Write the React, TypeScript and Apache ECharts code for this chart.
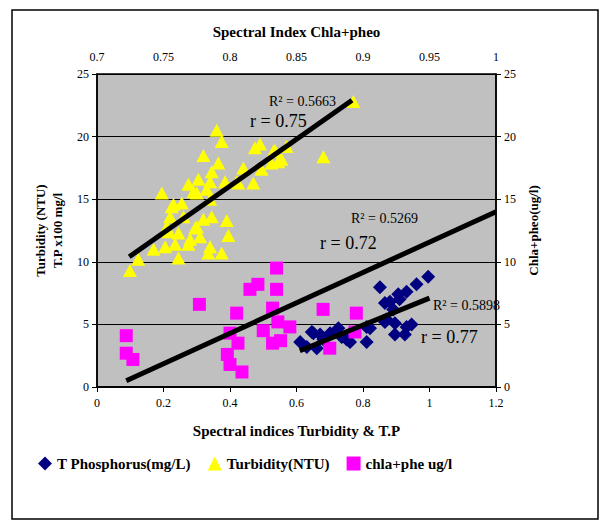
import React, { useEffect, useRef } from "react";
import * as echarts from "echarts";

// Turbidity (NTU) vs spectral index (bottom axis)
const turbidityX = [0.771, 0.681, 0.36, 0.375, 0.49, 0.475, 0.57, 0.535, 0.555, 0.32, 0.365, 0.345, 0.44, 0.495, 0.525, 0.305, 0.275, 0.385, 0.425, 0.47, 0.34, 0.3, 0.195, 0.255, 0.225, 0.34, 0.345, 0.39, 0.395, 0.375, 0.335, 0.245, 0.124, 0.099, 0.17, 0.205, 0.21, 0.245, 0.28, 0.3, 0.32, 0.26, 0.22, 0.31, 0.275, 0.235, 0.29, 0.33, 0.23, 0.215, 0.53, 0.545, 0.42, 0.295, 0.34];
const turbidityY = [22.8, 18.4, 20.5, 19.6, 19.4, 19.1, 19.2, 18.9, 18.2, 18.5, 17.9, 17.2, 17.5, 17.4, 17.9, 16.6, 16.2, 16.4, 16.3, 16.3, 16.4, 15.5, 15.5, 14.7, 14.4, 15.0, 13.6, 13.3, 12.1, 10.7, 10.7, 10.3, 10.2, 9.3, 11.0, 11.2, 12.8, 12.3, 11.8, 12.8, 13.4, 13.6, 13.6, 12.0, 11.4, 11.4, 15.6, 15.8, 14.6, 12.4, 18.8, 18.0, 16.4, 12.7, 11.2];

// T Phosphorus (x100 mg/l) vs spectral index (bottom axis)
const tpX = [0.851, 0.996, 0.961, 0.931, 0.906, 0.881, 0.891, 0.871, 0.896, 0.931, 0.896, 0.811, 0.811, 0.751, 0.726, 0.701, 0.671, 0.646, 0.611, 0.661, 0.866, 0.866, 0.821, 0.651, 0.681, 0.736, 0.761, 0.946, 0.926, 0.631, 0.91];
const tpY = [7.97, 8.8, 8.2, 7.6, 7.4, 6.8, 6.2, 5.4, 5.1, 4.8, 4.2, 3.6, 4.8, 3.8, 4.7, 4.3, 4.2, 4.4, 3.6, 3.1, 6.7, 5.2, 4.7, 4.3, 3.8, 4.0, 3.6, 5.0, 4.2, 3.2, 7.0];

// Chla+pheo (ug/l) vs spectral index Chla+pheo (top axis)
const chlaX = [0.722, 0.722, 0.727, 0.777, 0.805, 0.8, 0.806, 0.798, 0.8, 0.809, 0.815, 0.821, 0.835, 0.835, 0.832, 0.836, 0.825, 0.832, 0.838, 0.845, 0.87, 0.895, 0.894, 0.875];
const chlaY = [4.1, 2.7, 2.2, 6.6, 5.9, 4.3, 3.5, 2.6, 1.8, 1.2, 7.8, 8.2, 9.5, 7.8, 6.3, 5.2, 4.5, 3.5, 3.7, 4.8, 6.2, 5.9, 4.4, 3.1];

// Trend lines (end points)
const turbidityTrend = [[0.097, 10.4], [0.767, 22.9]];
const tpTrend = [[0.61, 2.9], [1.0, 7.1]];
const chlaTrend = [[0.722, 0.5], [1.0, 14.0]];

const bottomTicks = { min: 0, max: 1.2, interval: 0.2 };
const topTicks = { min: 0.7, max: 1, interval: 0.05 };
const yTicks = { min: 0, max: 25, interval: 5 };

const FONT = "'Liberation Serif', 'Times New Roman', serif";

const pairs = (xs: number[], ys: number[]) => xs.map((x, i) => [x, ys[i]]);

export default function App() {
  const ref = useRef<HTMLDivElement>(null);
  useEffect(() => {
    if (!ref.current) return;
    const chart = echarts.init(ref.current, undefined, { renderer: "svg" });
    const labelStyle = { color: "#000", fontFamily: FONT, fontSize: 12 };
    const nameStyle = { color: "#000", fontFamily: FONT, fontSize: 15, fontWeight: "bold" as const };
    const yNameStyle = { color: "#000", fontFamily: FONT, fontSize: 13, fontWeight: "bold" as const };
    const axisLine = { show: true, lineStyle: { color: "#000", width: 1.5 } };
    const ann = (x: number, y: number, text: string, size: number) => ({
      type: "text",
      left: x,
      top: y,
      z: 100,
      style: { text, fill: "#000", font: `${size}px ${FONT}` },
    });
    chart.setOption({
      animation: false,
      backgroundColor: "#fff",
      grid: {
        left: 97,
        top: 74,
        width: 399,
        height: 313,
        show: true,
        backgroundColor: "#C0C0C0",
        borderColor: "#000",
        borderWidth: 1.5,
      },
      xAxis: [
        {
          type: "value",
          position: "bottom",
          ...bottomTicks,
          axisLine,
          axisTick: { show: true, inside: false, length: 5, lineStyle: { color: "#000" } },
          axisLabel: { ...labelStyle, margin: 10 },
          splitLine: { show: false },
          name: "Spectral indices Turbidity & T.P",
          nameLocation: "middle",
          nameGap: 36,
          nameTextStyle: nameStyle,
        },
        {
          type: "value",
          position: "top",
          ...topTicks,
          axisLine,
          axisTick: { show: true, inside: true, length: 5, lineStyle: { color: "#000" } },
          axisLabel: { ...labelStyle, margin: 11 },
          splitLine: { show: false },
          name: "Spectral Index Chla+pheo",
          nameLocation: "middle",
          nameGap: 35,
          nameTextStyle: nameStyle,
        },
      ],
      yAxis: [
        {
          type: "value",
          position: "left",
          ...yTicks,
          axisLine,
          axisTick: { show: true, length: 5, lineStyle: { color: "#000" } },
          axisLabel: { ...labelStyle, margin: 8 },
          splitLine: { show: true, lineStyle: { color: "#000", width: 1 } },
          name: "Turbidity (NTU)\nT.P x100 mg/l",
          nameLocation: "middle",
          nameGap: 28,
          nameTextStyle: { ...yNameStyle, lineHeight: 17 },
        },
        {
          type: "value",
          position: "right",
          ...yTicks,
          axisLine,
          axisTick: { show: true, length: 5, lineStyle: { color: "#000" } },
          axisLabel: { ...labelStyle, margin: 8 },
          splitLine: { show: false },
          name: "Chla+pheo(ug/l)",
          nameLocation: "middle",
          nameGap: 29,
          nameTextStyle: yNameStyle,
        },
      ],
      legend: {
        data: ["T Phosphorus(mg/L)", "Turbidity(NTU)", "chla+phe ug/l"],
        left: 33,
        top: 451,
        itemGap: 17,
        itemWidth: 14,
        itemHeight: 14,
        textStyle: { color: "#000", fontFamily: FONT, fontSize: 15, fontWeight: "bold" },
      },
      graphic: [
        {
          type: "rect",
          shape: { x: 12, y: 10, width: 586, height: 509 },
          style: { fill: "none", stroke: "#000", lineWidth: 1.5 },
          z: 0,
        },
        ann(269, 94, "R² = 0.5663", 14),
        ann(250, 112, "r = 0.75", 18),
        ann(351, 211, "R² = 0.5269", 14),
        ann(320, 234, "r = 0.72", 18),
        ann(433, 298, "R² = 0.5898", 14),
        ann(421, 328, "r = 0.77", 18),
      ],
      series: [
        {
          name: "T Phosphorus(mg/L)",
          type: "scatter",
          symbol: "diamond",
          symbolSize: 14,
          itemStyle: { color: "#000080", opacity: 1 },
          data: pairs(tpX, tpY),
          z: 2,
        },
        {
          name: "Turbidity(NTU)",
          type: "scatter",
          symbol: "triangle",
          symbolSize: [14, 13],
          itemStyle: { color: "#FFFF00", opacity: 1 },
          data: pairs(turbidityX, turbidityY),
          z: 2,
        },
        {
          name: "chla+phe ug/l",
          type: "scatter",
          symbol: "rect",
          symbolSize: 13,
          xAxisIndex: 1,
          yAxisIndex: 1,
          itemStyle: { color: "#FF00FF", opacity: 1 },
          data: pairs(chlaX, chlaY),
          z: 2,
        },
        {
          name: "trend-tp",
          type: "line",
          data: tpTrend,
          symbol: "none",
          lineStyle: { color: "#000", width: 5 },
          z: 5,
          silent: true,
        },
        {
          name: "trend-turb",
          type: "line",
          data: turbidityTrend,
          symbol: "none",
          lineStyle: { color: "#000", width: 5 },
          z: 5,
          silent: true,
        },
        {
          name: "trend-chla",
          type: "line",
          xAxisIndex: 1,
          yAxisIndex: 1,
          data: chlaTrend,
          symbol: "none",
          lineStyle: { color: "#000", width: 5 },
          z: 5,
          silent: true,
        },
      ],
    });
    return () => chart.dispose();
  }, []);
  return (
    <div
      ref={ref}
      style={{ position: "absolute", left: 0, top: 0, width: 600, height: 521 }}
    />
  );
}
